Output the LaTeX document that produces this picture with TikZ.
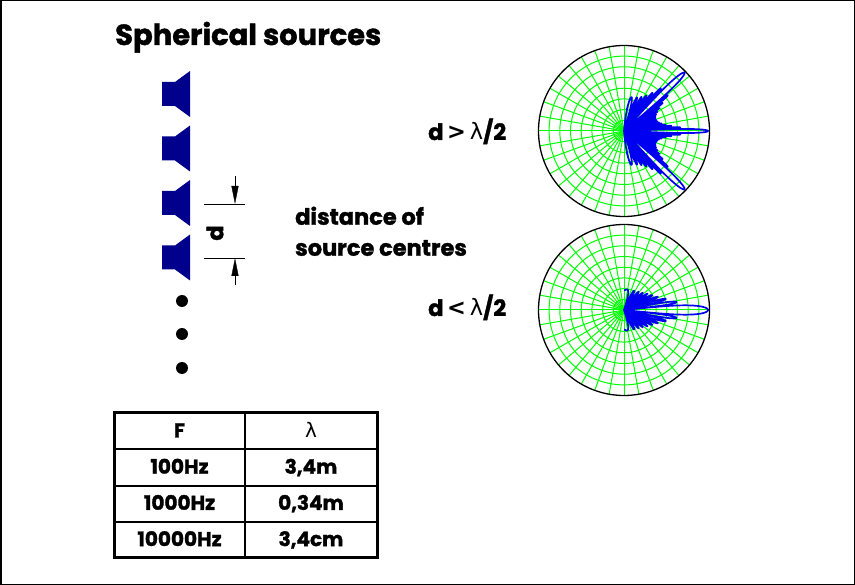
\documentclass[tikz,border=0pt]{standalone}
\usepackage{fontspec}
\setmainfont{Poppins}[BoldFeatures={FakeBold=1.5}]
\newfontfamily\symfont{DejaVu Sans}
\usetikzlibrary{arrows.meta}
\definecolor{spkblue}{RGB}{0,0,140}
\definecolor{lobeblue}{RGB}{0,0,240}
\definecolor{gridgreen}{RGB}{0,255,0}
\newcommand{\lam}{{\symfont\mdseries λ}}
\begin{document}
\begin{tikzpicture}[x=1pt,y=-1pt,
	label/.style={font=\bfseries\fontsize{22.5}{31}\selectfont, inner sep=0pt},
	cell/.style={font=\bfseries\fontsize{20}{23}\selectfont, inner sep=0pt, anchor=base},
	spk/.style={fill=spkblue},
	lobe/.style={draw=lobeblue, line width=1.7pt, line join=round},
	grid line/.style={draw=gridgreen, line width=1pt},
	declare function={af(\u,\n)=abs(sin(\n*\u))/(\n*abs(sin(\u))+0.0001);
		polr(\v,\f)=84*max(0,1+8.686*ln(max(\v,0.001))/\f);}]
	\useasboundingbox (0,0) rectangle (855,585);
	\draw[line width=1.5pt] (0.75,0.75) rectangle (854.25,584.25);
	\node[anchor=base west, inner sep=0pt, font=\bfseries\fontsize{29}{35}\selectfont] (title) at (115,45) {Spherical sources};
	% loudspeakers
	\foreach \y in {94,148.5,203,257.5}
		\fill[spk] (162,\y-12) -- (175,\y-12) -- (190,\y-23) -- (190,\y+23) -- (175,\y+12) -- (162,\y+12) -- cycle;
	\foreach \y in {301,334,368} \fill (182,\y) circle[radius=6];
	% distance d
	\coordinate (d1) at (235,204);
	\coordinate (d2) at (235,258);
	\draw ([xshift=-31pt]d1) -- ([xshift=10pt]d1);
	\draw ([xshift=-31pt]d2) -- ([xshift=10pt]d2);
	\draw[-{Triangle[length=18pt,width=7pt]}] ([yshift=28pt]d1) -- (d1);
	\draw[-{Triangle[length=18pt,width=7pt]}] ([yshift=-27pt]d2) -- (d2);
	\node[label, rotate=90] (dlab) at (215,233) {d};
	\node[label, anchor=north west, align=left] (dist) at (295,206.5) {distance of\\source centres};
	\node[label, anchor=base west] (big) at (428,140) {d\,{\symfont >}\,\lam/2};
	\node[label, anchor=base west] (small) at (428,316) {d\,{\symfont <}\,\lam/2};
	% polar diagrams
	\coordinate (far) at (624,131);
	\coordinate (near) at (624,310);
	\foreach \c in {far,near}{
		\foreach \a in {0,10,...,350} \draw[grid line] (\c) -- ++(\a:85.5);
		\foreach \i in {1,...,7} \draw[grid line] (\c) circle[radius=\i*10.7];
	}
	\begin{scope}[shift={(far)}]
		\draw[lobe] plot[domain=-90:90, samples=1200, variable=\t] (\t:{polr(af(259.2*sin(\t),16),40)});
	\end{scope}
	\begin{scope}[shift={(near)}]
		\draw[lobe] plot[domain=-90:90, samples=1200, variable=\t] (\t:{polr(af(72*sin(\t),24),36)});
	\end{scope}
	\foreach \c in {far,near} \draw[line width=1.3pt] (\c) circle[radius=85.5];
	% table
	\draw[line width=1.3pt] (245,413) -- (245,557);
	\foreach \y in {449,486,522} \draw[line width=1.3pt] (114,\y) -- (377,\y);
	\draw[line width=3pt] (114,413) rectangle (377,557);
	\foreach \f/\l [count=\r] in {F/{\lam},100Hz/{3,4m},1000Hz/{0,34m},10000Hz/{3,4cm}}{
		\pgfmathsetmacro\yy{437.5+(\r-1)*36.2}
		\node[cell] (f\r) at (179.5,\yy) {\f};
		\node[cell] (l\r) at (311,\yy) {\l};
	}
\end{tikzpicture}
\end{document}
